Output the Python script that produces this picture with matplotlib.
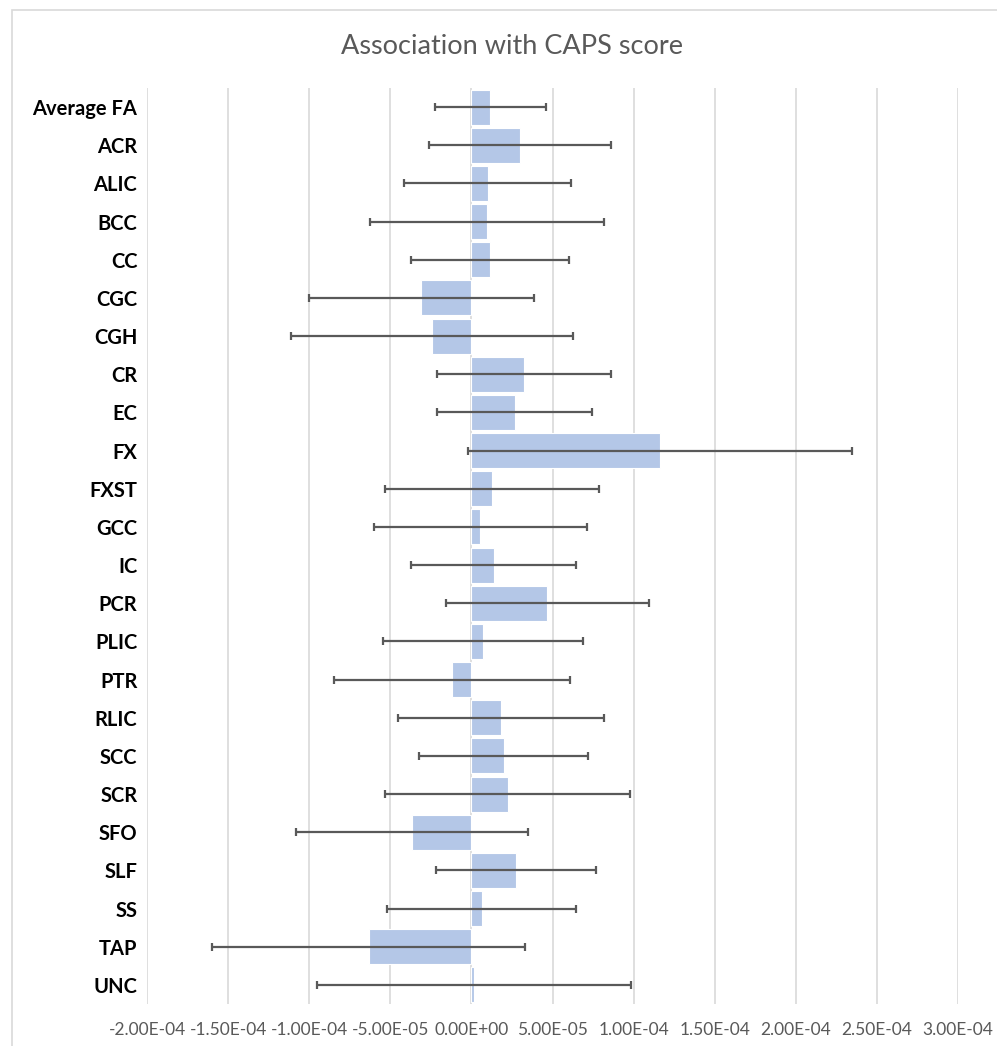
import numpy as np
import matplotlib.pyplot as plt
from matplotlib.patches import Rectangle

# - - - - - - DATA - - - - - -
regions = ['Average FA', 'ACR', 'ALIC', 'BCC', 'CC', 'CGC', 'CGH', 'CR', 'EC', 'FX',
           'FXST', 'GCC', 'IC', 'PCR', 'PLIC', 'PTR', 'RLIC', 'SCC', 'SCR', 'SFO',
           'SLF', 'SS', 'TAP', 'UNC']
# coefficients (x 1e-5)
coef = [1.15, 2.98, 1.0, 0.95, 1.15, -3.1, -2.43, 3.24, 2.67, 11.65,
        1.27, 0.56, 1.38, 4.69, 0.7, -1.2, 1.81, 1.98, 2.23, -3.66,
        2.74, 0.63, -6.33, 0.17]
# half-width of the error bars (x 1e-5)
err = [3.42, 5.6, 5.17, 7.23, 4.87, 6.93, 8.7, 5.34, 4.79, 11.83,
       6.58, 6.58, 5.09, 6.25, 6.15, 7.25, 6.36, 5.22, 7.56, 7.13,
       4.93, 5.83, 9.65, 9.68]
xticks = np.arange(-2e-4, 3.01e-4, 5e-5)

coef = np.array(coef) * 1e-5
err = np.array(err) * 1e-5

plt.rcParams['font.family'] = ['Lato', 'DejaVu Sans']

fig = plt.figure(figsize=(9.97, 10.46), dpi=100)
W, H = 997, 1046
ax = fig.add_axes([147 / W, 1 - 1004 / H, 811 / W, (1004 - 88) / H])

y = np.arange(len(regions))
ax.barh(y, coef, height=0.92, color='#b4c7e7', edgecolor='white', linewidth=0.8, zorder=2)
ax.errorbar(coef, y, xerr=err, fmt='none', ecolor='#595959', elinewidth=1.6,
            capsize=3, capthick=1.6, zorder=3)

ax.set_xlim(-2e-4, 3e-4)
ax.set_ylim(len(regions) - 0.5, -0.5)
ax.set_xticks(xticks)
ax.set_xticklabels([f'{v:.2E}' if abs(v) > 1e-12 else '0.00E+00' for v in xticks],
                   fontsize=12.5, color='#595959')
ax.set_yticks(y)
ax.set_yticklabels(regions, fontsize=14.5, fontweight='bold', color='black')
ax.tick_params(axis='both', length=0)
ax.tick_params(axis='x', pad=13)
ax.tick_params(axis='y', pad=7)
ax.grid(axis='x', color='#d9d9d9', linewidth=1.2, zorder=0)
ax.set_axisbelow(True)
for s in ax.spines.values():
    s.set_visible(False)

fig.text(512 / W, 1 - 46 / H, 'Association with CAPS score', ha='center', va='center',
         fontsize=19.5, color='#595959')

# chart area border
fig.patches.append(Rectangle((12 / W, -0.1), 1.2, 1 - 10 / H + 0.1, transform=fig.transFigure,
                             fill=False, edgecolor='#d9d9d9', linewidth=1.2))

fig.savefig('out.png', dpi=100)
